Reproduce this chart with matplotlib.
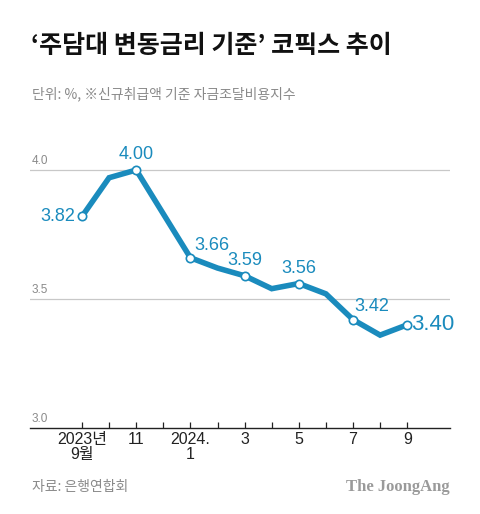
import numpy as np
import matplotlib.pyplot as plt

plt.rcParams['font.family'] = ['Noto Sans CJK KR', 'DejaVu Sans']

# 데이터 (2023년 9월 ~ 2024년 9월, 월별)
months = list(range(13))
cofix = [3.82, 3.97, 4.00, 3.83, 3.66, 3.62, 3.59, 3.54, 3.56, 3.52, 3.42, 3.36, 3.40]
labeled_idx = [0, 2, 4, 6, 8, 10, 12]
tick_pos = [0, 2, 4, 6, 8, 10, 12]
tick_labels = ["2023년\n9월", "11", "2024.\n1", "3", "5", "7", "9"]
y_grid = [3.5, 4.0]
y_labels = ["3.5", "4.0"]

BLUE = "#1a8bbd"
W, H = 480, 514

fig = plt.figure(figsize=(W/100, H/100), dpi=100)
fig.patch.set_facecolor("white")

# 축 위치 (픽셀 기준)
left, right, bottom, top = 30, 450, 428, 140
ax = fig.add_axes([left/W, (H-bottom)/H, (right-left)/W, (bottom-top)/H])

px_per_month = 27.1
x0 = 82
ax.set_xlim((left-x0)/px_per_month, (right-x0)/px_per_month)
ax.set_ylim(3.0, 4.0 + (170-top)/258)

for g in y_grid:
    ax.axhline(g, color="#c8c8c8", lw=0.9, zorder=1)
for g, lab in zip(y_grid + [3.0], y_labels + ["3.0"]):
    ax.text(0.003, g + 0.012, lab, transform=ax.get_yaxis_transform(),
            fontsize=8.5, color="#8a8a8a", ha="left", va="bottom",
            family=["Liberation Sans", "DejaVu Sans"])

ax.plot(months, cofix, color=BLUE, lw=4.0, solid_joinstyle="miter", zorder=3)
ax.plot([months[i] for i in labeled_idx], [cofix[i] for i in labeled_idx],
        ls="none", marker="o", ms=6, mfc="white", mec=BLUE, mew=1.2, zorder=4)

# 라벨
offsets = {0: (-5, 0, "right", "center", 13),
           2: (0, 5, "center", "bottom", 13),
           4: (3, 3, "left", "bottom", 13),
           6: (0, 5, "center", "bottom", 13),
           8: (0, 5, "center", "bottom", 13),
           10: (1, 3, "left", "bottom", 13),
           12: (3, 0, "left", "center", 16)}
for i in labeled_idx:
    dx, dy, ha, va, fs = offsets[i]
    ax.annotate(f"{cofix[i]:.2f}", (months[i], cofix[i]), xytext=(dx, dy),
                textcoords="offset points", ha=ha, va=va, fontsize=fs,
                color=BLUE, family=["Liberation Sans", "DejaVu Sans"], zorder=5)

for s in ["top", "right", "left"]:
    ax.spines[s].set_visible(False)
ax.spines["bottom"].set_color("#222222")
ax.spines["bottom"].set_linewidth(1.0)
ax.set_yticks([])
ax.set_xticks(months)
ax.tick_params(axis="x", direction="in", length=4, width=0.9, color="#222222",
               labelsize=11.5, pad=3, labelcolor="#222222")
ax.set_xticklabels([tick_labels[tick_pos.index(m)] if m in tick_pos else "" for m in months],
                   linespacing=0.95, family=["Liberation Sans", "Noto Sans CJK KR"])

# 제목, 부제, 출처
fig.text(31/W, 1-46/H, "‘주담대 변동금리 기준’ 코픽스 추이", fontsize=18,
         fontweight="black", color="#111111", ha="left", va="center")
fig.text(32/W, 1-94/H, "단위: %, ※신규취급액 기준 자금조달비용지수", fontsize=10,
         color="#8a8a8a", ha="left", va="center")
fig.text(32/W, 1-487/H, "자료: 은행연합회", fontsize=10,
         color="#8a8a8a", ha="left", va="center")
fig.text(450/W, 1-487/H, "The JoongAng", fontsize=12, fontweight="bold",
         family=["Liberation Serif", "DejaVu Serif"], color="#9a9a9a",
         ha="right", va="center")

fig.savefig("out.png", dpi=100, facecolor="white")
